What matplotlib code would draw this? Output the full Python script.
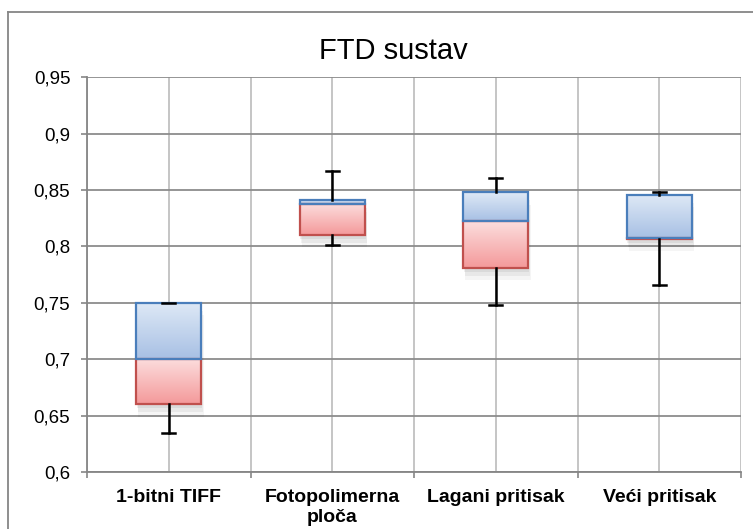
import numpy as np
import matplotlib
matplotlib.use("Agg")
import matplotlib.pyplot as plt
from matplotlib.lines import Line2D
from matplotlib.patches import Rectangle
from matplotlib.colors import LinearSegmentedColormap
from matplotlib.ticker import FuncFormatter, FixedLocator

plt.rcParams['font.family'] = ['Liberation Sans', 'DejaVu Sans']

labels = ['1-bitni TIFF', 'Fotopolimerna\nploča', 'Lagani pritisak', 'Veći pritisak']
minimum = [0.635, 0.801, 0.748, 0.766]
q1 = [0.660, 0.810, 0.781, 0.8065]
median = [0.700, 0.8375, 0.8225, 0.8075]
q3 = [0.750, 0.841, 0.848, 0.846]
maximum = [0.750, 0.867, 0.861, 0.848]
yticks = [0.6, 0.65, 0.7, 0.75, 0.8, 0.85, 0.9, 0.95]

fig = plt.figure(figsize=(7.53, 5.29), dpi=100)
ax = fig.add_axes([87 / 753, 1 - 472 / 529, (741 - 87) / 753, (472 - 77.3) / 529])

x = np.arange(len(labels))
w = 0.4
cap = 0.04

# okvir grafikona
frame = dict(color='#868686', lw=1.3, transform=fig.transFigure)
fig.add_artist(Line2D([8 / 753, 1], [1 - 12 / 529, 1 - 12 / 529], **frame))
fig.add_artist(Line2D([8 / 753, 8 / 753], [0, 1 - 12 / 529], **frame))

blue_cm = LinearSegmentedColormap.from_list('b', ['#dfe9f6', '#a7c0e4'])
red_cm = LinearSegmentedColormap.from_list('r', ['#fcdede', '#f4999a'])
grad = np.linspace(0, 1, 256).reshape(-1, 1)


def box(xc, lo, hi, cmap, edge):
    if hi - lo <= 0:
        return
    # sjena
    for k, a in enumerate([0.06, 0.05, 0.04]):
        d = 0.004 + 0.004 * k
        sh = Rectangle((xc - w / 2 + d * 1.2, lo - d * 0.9), w, hi - lo,
                       facecolor='black', edgecolor='none', alpha=a, zorder=2)
        ax.add_patch(sh)
    r = Rectangle((xc - w / 2, lo), w, hi - lo, facecolor='none',
                  edgecolor=edge, lw=1.6, zorder=4)
    ax.add_patch(r)
    im = ax.imshow(grad, cmap=cmap, aspect='auto', origin='upper',
                   extent=[xc - w / 2, xc + w / 2, lo, hi], zorder=3)
    im.set_clip_path(r)


for i in x:
    # brkovi
    ax.plot([i, i], [q3[i], maximum[i]], color='black', lw=1.8, zorder=5)
    ax.plot([i, i], [minimum[i], q1[i]], color='black', lw=1.8, zorder=5)
    ax.plot([i - cap, i + cap], [maximum[i]] * 2, color='black', lw=1.8, zorder=5)
    ax.plot([i - cap, i + cap], [minimum[i]] * 2, color='black', lw=1.8, zorder=5)
    box(i, q1[i], median[i], red_cm, '#c0504d')
    box(i, median[i], q3[i], blue_cm, '#4a7ebb')

ax.set_xlim(-0.5, 3.5)
ax.set_ylim(0.6, 0.95)

ax.yaxis.set_major_locator(FixedLocator(yticks))
ax.yaxis.set_major_formatter(FuncFormatter(lambda v, p: f"{v:g}".replace('.', ',')))
ax.set_xticks(x)
ax.set_xticklabels(labels, fontsize=14, fontweight='bold', linespacing=1.25)
ax.set_xticks(np.arange(-0.5, 4, 1.0), minor=True)

ax.tick_params(axis='y', labelsize=13.5, length=4, width=1.2, color='#868686', pad=8)
ax.tick_params(axis='x', which='major', length=0, pad=12)
ax.tick_params(axis='x', which='minor', length=4, width=1.2, color='#868686')

ax.grid(axis='y', color='#8c8c8c', lw=1.3, zorder=0)
ax.grid(axis='x', which='both', color='#c0c0c0', lw=1.3, zorder=0)
ax.set_axisbelow(True)

for s in ['top', 'right']:
    ax.spines[s].set_visible(False)
for s in ['left', 'bottom']:
    ax.spines[s].set_color('#868686')
    ax.spines[s].set_linewidth(1.3)

fig.text(393 / 753, 1 - 59.3 / 529, 'FTD sustav', fontsize=21,
         ha='center', va='baseline')

fig.savefig('out.png', dpi=100)
